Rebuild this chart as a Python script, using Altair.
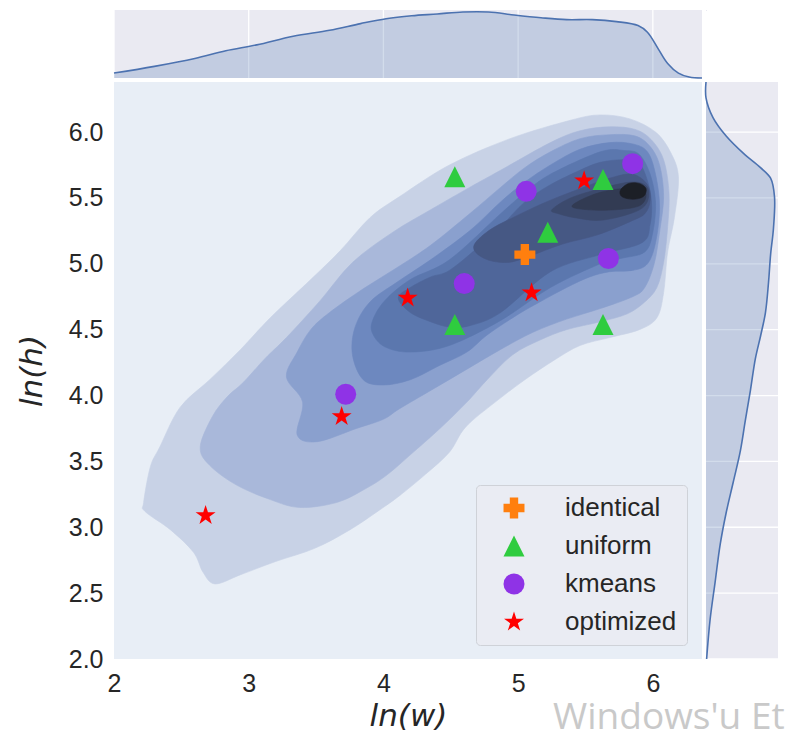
import altair as alt
import pandas as pd

# ---------------- axes ----------------
W_DOMAIN = [2.0, 6.365]
H_DOMAIN = [2.0, 6.38]
x_ticks = [2, 3, 4, 5, 6]
y_ticks = [2.0, 2.5, 3.0, 3.5, 4.0, 4.5, 5.0, 5.5, 6.0]

# ---------------- scatter points (ln w, ln h) ----------------
methods = ["identical", "uniform", "kmeans", "optimized"]
method_colors = ["#ff7f0e", "#2fcc3f", "#8f33e6", "#ff0000"]
identical_w = [5.05]
identical_h = [5.07]
uniform_w = [4.53, 5.63, 5.22, 4.53, 5.63]
uniform_h = [5.66, 5.64, 5.24, 4.54, 4.54]
kmeans_w = [5.85, 5.06, 5.67, 4.60, 3.72]
kmeans_h = [5.76, 5.55, 5.04, 4.85, 4.01]
optimized_w = [5.49, 4.18, 5.10, 3.69, 2.68]
optimized_h = [5.63, 4.74, 4.78, 3.84, 3.09]

# ---------------- KDE contour outlines (outer -> inner) ----------------
lvl1_w = [2.22, 2.27, 2.34, 2.49, 2.71, 2.94, 3.16, 3.46, 3.68, 3.90, 4.12, 4.49, 4.94, 5.39, 5.61,
          5.83, 6.02, 6.13, 6.19, 6.16, 6.11, 6.08, 6.03, 5.90, 5.68, 5.46, 5.27, 5.05, 4.83, 4.61,
          4.49, 4.31, 4.12, 3.97, 3.75, 3.49, 3.20, 2.94, 2.75, 2.66, 2.59, 2.42, 2.23]
lvl1_h = [3.19, 3.46, 3.61, 3.91, 4.12, 4.35, 4.59, 4.88, 5.10, 5.35, 5.51, 5.75, 5.95, 6.09, 6.13,
          6.10, 6.00, 5.85, 5.66, 5.35, 5.09, 4.78, 4.59, 4.50, 4.44, 4.38, 4.27, 4.12, 3.95, 3.76,
          3.57, 3.40, 3.24, 3.13, 2.98, 2.84, 2.74, 2.64, 2.57, 2.66, 2.81, 2.98, 3.12]
lvl2_w = [2.64, 2.73, 2.84, 2.96, 3.12, 3.28, 3.53, 3.77, 4.07, 4.35, 4.64, 4.87, 5.24, 5.46, 5.68,
          5.87, 5.99, 6.08, 6.12, 6.11, 6.08, 6.03, 5.94, 5.81, 5.61, 5.36, 5.16, 4.96, 4.77, 4.62,
          4.42, 4.20, 4.03, 3.88, 3.66, 3.38, 3.16, 2.91, 2.71]
lvl2_h = [3.61, 3.84, 3.99, 4.10, 4.28, 4.44, 4.72, 5.01, 5.24, 5.41, 5.58, 5.71, 5.92, 6.01, 6.04,
          6.02, 5.94, 5.79, 5.54, 5.28, 5.01, 4.82, 4.71, 4.62, 4.56, 4.50, 4.42, 4.31, 4.12, 3.95,
          3.75, 3.55, 3.40, 3.30, 3.19, 3.15, 3.21, 3.32, 3.47]
lvl3_w = [3.28, 3.36, 3.46, 3.60, 3.85, 4.10, 4.35, 4.64, 4.87, 5.05, 5.24, 5.46, 5.68, 5.87, 5.98,
          6.05, 6.08, 6.05, 6.01, 5.94, 5.85, 5.61, 5.36, 5.11, 4.87, 4.62, 4.37, 4.12, 4.00, 3.80,
          3.51, 3.36, 3.40]
lvl3_h = [4.14, 4.33, 4.50, 4.63, 4.81, 4.97, 5.14, 5.38, 5.58, 5.73, 5.85, 5.95, 5.98, 5.97, 5.89,
          5.75, 5.51, 5.24, 5.00, 4.82, 4.75, 4.66, 4.58, 4.48, 4.35, 4.20, 4.05, 3.90, 3.82, 3.75,
          3.65, 3.70, 3.95]
lvl4_w = [3.79, 3.90, 4.10, 4.35, 4.64, 4.87, 5.05, 5.24, 5.46, 5.68, 5.85, 5.96, 6.02, 6.05, 6.02,
          5.96, 5.85, 5.68, 5.53, 5.36, 5.16, 4.99, 4.77, 4.62, 4.42, 4.20, 4.00, 3.85, 3.77]
lvl4_h = [4.52, 4.71, 4.86, 5.03, 5.25, 5.47, 5.62, 5.75, 5.87, 5.92, 5.91, 5.85, 5.68, 5.43, 5.16,
          5.00, 4.95, 4.94, 4.90, 4.82, 4.71, 4.61, 4.46, 4.33, 4.23, 4.12, 4.08, 4.12, 4.31]
lvl5_w = [3.92, 4.01, 4.20, 4.49, 4.87, 5.05, 5.24, 5.61, 5.79, 5.90, 5.98, 6.02, 6.00, 5.94, 5.76,
          5.61, 5.24, 4.87, 4.49, 4.20, 4.01, 3.92]
lvl5_h = [4.57, 4.72, 4.88, 5.03, 5.38, 5.54, 5.68, 5.85, 5.86, 5.83, 5.68, 5.47, 5.24, 5.09, 5.04,
          5.00, 4.82, 4.57, 4.38, 4.33, 4.37, 4.47]
lvl6_w = [4.11, 4.20, 4.35, 4.49, 4.72, 4.87, 5.05, 5.24, 5.46, 5.61, 5.79, 5.90, 5.96, 5.99, 5.98,
          5.92, 5.61, 5.24, 4.87, 4.64, 4.49, 4.35, 4.20]
lvl6_h = [4.74, 4.82, 4.90, 4.95, 5.14, 5.28, 5.47, 5.60, 5.71, 5.77, 5.79, 5.76, 5.63, 5.47, 5.30,
          5.16, 5.07, 4.94, 4.63, 4.53, 4.52, 4.56, 4.63]
lvl7_w = [4.67, 4.78, 4.96, 5.21, 5.46, 5.68, 5.85, 5.96, 5.98, 5.94, 5.83, 5.59, 5.33, 5.09, 4.92, 4.75]
lvl7_h = [5.13, 5.25, 5.35, 5.47, 5.57, 5.65, 5.68, 5.60, 5.48, 5.38, 5.32, 5.22, 5.15, 5.06, 5.01, 5.04]
lvl8_w = [5.25, 5.39, 5.61, 5.83, 5.94, 5.97, 5.94, 5.83, 5.61, 5.42, 5.30]
lvl8_h = [5.41, 5.50, 5.57, 5.62, 5.60, 5.53, 5.44, 5.38, 5.33, 5.35, 5.38]
lvl9_w = [5.40, 5.57, 5.76, 5.90, 5.95, 5.90, 5.72, 5.52]
lvl9_h = [5.44, 5.53, 5.57, 5.57, 5.52, 5.44, 5.41, 5.41]
lvl10_w = [5.76, 5.82, 5.90, 5.95, 5.93, 5.85, 5.77]
lvl10_h = [5.56, 5.61, 5.61, 5.57, 5.51, 5.49, 5.51]
level_colors = ["#c8d2e6", "#a9b8da", "#8aa0ce", "#6d88bf", "#5b77ae",
                "#4f669a", "#465884", "#3c4a6d", "#323b53", "#1c1f26"]
base_color = "#e8eef6"

# ---------------- marginal KDEs ----------------
w_grid = [2.00, 2.30, 2.60, 2.83, 3.06, 3.33, 3.60, 3.83, 4.02, 4.21, 4.40, 4.59, 4.78, 4.97, 5.17,
          5.36, 5.55, 5.73, 5.89, 5.96, 6.04, 6.11, 6.19, 6.27, 6.365]
w_dens = [0.025, 0.059, 0.099, 0.138, 0.168, 0.212, 0.242, 0.276, 0.301, 0.316, 0.325, 0.335, 0.335,
          0.320, 0.306, 0.296, 0.296, 0.286, 0.266, 0.232, 0.148, 0.074, 0.025, 0.005, 0.0]
h_grid = [2.00, 2.30, 2.58, 2.87, 3.11, 3.34, 3.58, 3.81, 4.04, 4.28, 4.45, 4.63, 4.86, 5.07, 5.27,
          5.51, 5.65, 5.73, 5.84, 5.97, 6.11, 6.26, 6.38]
h_dens = [0.003, 0.020, 0.044, 0.069, 0.098, 0.132, 0.167, 0.191, 0.216, 0.240, 0.265, 0.289, 0.304,
          0.314, 0.328, 0.333, 0.314, 0.265, 0.181, 0.098, 0.034, 0.0, 0.0]

KDE_BLUE = "#4c72b0"
TXT = "#262626"
MAIN_W, MAIN_H = 588, 577

star_path = ("M0,-1L0.2245,-0.309L0.951,-0.309L0.3633,0.118L0.588,0.809L0,0.382"
             "L-0.588,0.809L-0.3633,0.118L-0.951,-0.309L-0.2245,-0.309Z")
tri_path = "M0,-1L1,1L-1,1Z"
method_shapes = ["cross", tri_path, "circle", star_path]

x_axis = alt.Axis(values=x_ticks, format="d", title="ln(w)", grid=False, ticks=False, domain=False,
                  labelFlush=False, labelFontSize=25, labelFont="Liberation Sans", labelColor=TXT,
                  labelPadding=12, titleFont="DejaVu Sans", titleFontStyle="italic",
                  titleFontWeight="normal", titleFontSize=31, titleColor=TXT, titlePadding=5)
y_axis = alt.Axis(values=y_ticks, format=".1f", title="ln(h)", grid=False, ticks=False, domain=False,
                  labelFontSize=25, labelFont="Liberation Sans", labelColor=TXT, labelPadding=11,
                  titleFont="DejaVu Sans", titleFontStyle="italic", titleFontWeight="normal",
                  titleFontSize=31, titleColor=TXT, titlePadding=20)


def xenc(field):
    return alt.X(f"{field}:Q", scale=alt.Scale(domain=W_DOMAIN, nice=False, zero=False), axis=x_axis)


def yenc(field):
    return alt.Y(f"{field}:Q", scale=alt.Scale(domain=H_DOMAIN, nice=False, zero=False), axis=y_axis)


# background (lowest density level)
bg_df = pd.DataFrame({"w0": [W_DOMAIN[0]], "w1": [W_DOMAIN[1]], "h0": [H_DOMAIN[0]], "h1": [H_DOMAIN[1]]})
bg = alt.Chart(bg_df).mark_rect(color=base_color).encode(
    x=xenc("w0"), x2="w1:Q", y=yenc("h0"), y2="h1:Q")

levels = [(lvl1_w, lvl1_h), (lvl2_w, lvl2_h), (lvl3_w, lvl3_h), (lvl4_w, lvl4_h), (lvl5_w, lvl5_h),
          (lvl6_w, lvl6_h), (lvl7_w, lvl7_h), (lvl8_w, lvl8_h), (lvl9_w, lvl9_h), (lvl10_w, lvl10_h)]
contours = []
for (ws, hs), col in zip(levels, level_colors):
    df = pd.DataFrame({"w": ws, "h": hs, "i": list(range(len(ws)))})
    contours.append(
        alt.Chart(df).mark_line(fill=col, stroke=col, strokeWidth=0.6, interpolate="cardinal-closed")
        .encode(x=xenc("w"), y=yenc("h"), order="i:Q")
    )

rows = []
for name, ws, hs in [("identical", identical_w, identical_h), ("uniform", uniform_w, uniform_h),
                     ("kmeans", kmeans_w, kmeans_h), ("optimized", optimized_w, optimized_h)]:
    for a, b in zip(ws, hs):
        rows.append({"w": a, "h": b, "method": name})
pts = pd.DataFrame(rows)

legend = alt.Legend(title=None, orient="none", legendX=362, legendY=403, fillColor="#eaecf3",
                    strokeColor="#cfd2d8", cornerRadius=4, padding=10, symbolSize=440,
                    symbolOffset=15, labelOffset=38, labelFontSize=26, labelFont="Liberation Sans",
                    labelColor=TXT, rowPadding=12, symbolStrokeWidth=0, symbolOpacity=1)

points = alt.Chart(pts).mark_point(filled=True, size=440, opacity=1, strokeWidth=0).encode(
    x=xenc("w"), y=yenc("h"),
    color=alt.Color("method:N", scale=alt.Scale(domain=methods, range=method_colors), legend=legend),
    shape=alt.Shape("method:N", scale=alt.Scale(domain=methods, range=method_shapes), legend=legend),
)

main = alt.layer(bg, *contours, points).properties(width=MAIN_W, height=MAIN_H)

# top marginal
top_df = pd.DataFrame({"w": w_grid, "d": w_dens})
top_x = alt.X("w:Q", scale=alt.Scale(domain=W_DOMAIN, nice=False, zero=False), axis=None)
top_y = alt.Y("d:Q", scale=alt.Scale(domain=[0, 0.345], nice=False), axis=None)
top_grid = alt.Chart(pd.DataFrame({"t": x_ticks})).mark_rule(color="white", strokeWidth=1.3).encode(
    x=alt.X("t:Q", scale=alt.Scale(domain=W_DOMAIN, nice=False, zero=False), axis=None))
top = alt.layer(
    top_grid,
    alt.Chart(top_df).mark_area(color=KDE_BLUE, fillOpacity=0.25, interpolate="catmull-rom")
    .encode(x=top_x, y=top_y),
    alt.Chart(top_df).mark_line(color=KDE_BLUE, strokeWidth=1.6, interpolate="catmull-rom")
    .encode(x=top_x, y=top_y),
).properties(width=MAIN_W, height=68)

# right marginal
right_df = pd.DataFrame({"h": h_grid, "d": h_dens})
r_y = alt.Y("h:Q", scale=alt.Scale(domain=H_DOMAIN, nice=False, zero=False), axis=None)
r_x = alt.X("d:Q", scale=alt.Scale(domain=[0, 0.35], nice=False), axis=None)
right_grid = alt.Chart(pd.DataFrame({"t": y_ticks})).mark_rule(color="white", strokeWidth=1.3).encode(
    y=alt.Y("t:Q", scale=alt.Scale(domain=H_DOMAIN, nice=False, zero=False), axis=None))
right = alt.layer(
    right_grid,
    alt.Chart(right_df).mark_area(color=KDE_BLUE, fillOpacity=0.25, orient="horizontal",
                                  interpolate="catmull-rom").encode(x=r_x, y=r_y),
    alt.Chart(right_df).mark_line(color=KDE_BLUE, strokeWidth=1.6, interpolate="catmull-rom")
    .encode(x=r_x, y=r_y, order="h:Q"),
).properties(width=72, height=MAIN_H)

blank = alt.Chart(pd.DataFrame({"v": [0]})).mark_point(size=0, opacity=0).encode(
    x=alt.X("v:Q", axis=None), y=alt.Y("v:Q", axis=None)).properties(width=1, height=1)

chart = alt.concat(top, blank, main, right, columns=2, spacing={"row": -5, "column": -4},
                   align="each").resolve_scale(
    color="independent", shape="independent"
).properties(
    padding={"left": 8, "top": 0, "right": 0, "bottom": 0},
    title=alt.TitleParams("Windows'u Et", orient="bottom", anchor="end", fontSize=37,
                          font="Open Sans", fontWeight="normal", color="#c9c9c9", offset=-31, dx=6),
).configure_view(strokeWidth=0, fill="#eaeaf2")

chart.save("out.html", embed_options={"renderer": "svg", "actions": False})
